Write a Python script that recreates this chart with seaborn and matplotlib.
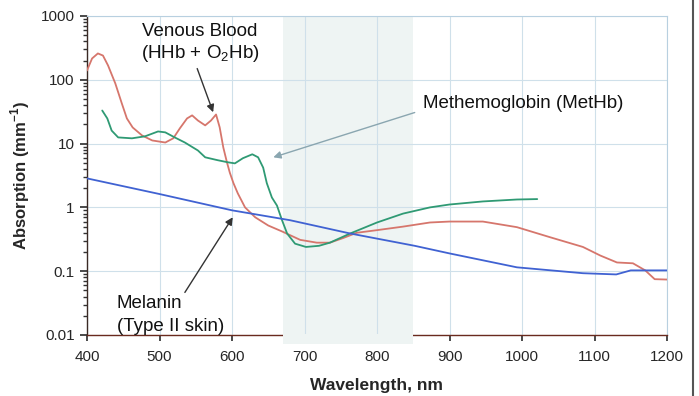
import numpy as np
import pandas as pd
import matplotlib
matplotlib.use("Agg")
import matplotlib.pyplot as plt
import seaborn as sns
from matplotlib.lines import Line2D

# ---- data ----
blood_wl = [400, 407, 415, 422, 429, 439, 448, 455, 463, 476, 490, 508, 519, 528, 538, 545,
            553, 563, 571, 578, 583, 588, 593, 597, 602, 608, 618, 632, 650, 669, 694, 717,
            735, 753, 772, 800, 836, 873, 900, 946, 993, 1039, 1084, 1108, 1131, 1153, 1170,
            1183, 1200]
blood_abs = [140, 216, 259, 240, 168, 88, 42.7, 24.8, 17.9, 13.4, 11.2, 10.4, 12.1, 17.3, 24.8, 27.7,
             23, 19.3, 23, 28.6, 18, 8.7, 5.1, 3.5, 2.4, 1.66, 1.0, 0.7, 0.52, 0.42, 0.31, 0.28,
             0.28, 0.33, 0.40, 0.44, 0.50, 0.58, 0.6, 0.6, 0.49, 0.34, 0.24, 0.176, 0.137, 0.133, 0.103,
             0.075, 0.074]

methb_wl = [421, 428, 434, 443, 462, 480, 498, 508, 521, 535, 553, 563, 580, 594, 604, 615,
            628, 636, 643, 648, 655, 662, 669, 676, 687, 702, 720, 735, 763, 800, 836, 873,
            900, 946, 993, 1021]
methb_abs = [33, 24.8, 16, 12.5, 12.1, 13, 15.5, 15, 12.5, 10.4, 7.8, 6.1, 5.5, 5.1, 4.9, 5.9,
             6.8, 6.1, 4.2, 2.4, 1.43, 1.07, 0.63, 0.39, 0.27, 0.24, 0.25, 0.28, 0.39, 0.58, 0.8, 1.0,
             1.11, 1.24, 1.33, 1.35]

melanin_wl = [400, 500, 600, 680, 763, 852, 900, 993, 1084, 1130, 1150, 1200]
melanin_abs = [2.85, 1.62, 0.9, 0.63, 0.39, 0.25, 0.19, 0.115, 0.093, 0.089, 0.103, 0.103]

x_ticks = [400, 500, 600, 700, 800, 900, 1000, 1100, 1200]
y_ticks = [0.01, 0.1, 1, 10, 100, 1000]
y_ticklabels = ["0.01", "0.1", "1", "10", "100", "1000"]
window = (670, 850)

df = pd.concat([
    pd.DataFrame({"wl": blood_wl, "abs": blood_abs, "series": "Venous Blood"}),
    pd.DataFrame({"wl": methb_wl, "abs": methb_abs, "series": "MetHb"}),
    pd.DataFrame({"wl": melanin_wl, "abs": melanin_abs, "series": "Melanin"}),
])

sns.set_theme(style="white")
plt.rcParams["font.family"] = ["Liberation Sans", "DejaVu Sans"]
plt.rcParams["mathtext.fontset"] = "custom"
plt.rcParams["mathtext.rm"] = "Liberation Sans"
plt.rcParams["mathtext.bf"] = "Liberation Sans:bold"

fig = plt.figure(figsize=(6.99, 3.96), dpi=100)
ax = fig.add_axes([87/699, 1 - 335/396, 580/699, 319/396])

band_color = "#eef4f3"
palette = {"Venous Blood": "#d6766c", "MetHb": "#2f9a74", "Melanin": "#4062d2"}
ax.axvspan(window[0], window[1], color=band_color, zorder=0.3, lw=0)
# band also covers the bottom axis line and a bit below it
ax.axvspan(window[0], window[1], ymin=-9/319, ymax=1.5/319, color=band_color,
           zorder=2.6, lw=0, clip_on=False)

sns.lineplot(data=df, x="wl", y="abs", hue="series", palette=palette, ax=ax,
             legend=False, lw=1.3, sort=False, zorder=3)

ax.set_yscale("log")
ax.set_xlim(400, 1200)
ax.set_ylim(0.01, 1000)
ax.set_xticks(x_ticks)
ax.set_xticklabels([str(t) for t in x_ticks], fontsize=11)
ax.set_yticks(y_ticks)
ax.set_yticklabels(y_ticklabels, fontsize=11)
ax.yaxis.set_minor_locator(matplotlib.ticker.LogLocator(base=10, subs=np.arange(2, 10)))
ax.yaxis.set_minor_formatter(matplotlib.ticker.NullFormatter())
ax.tick_params(axis="y", which="major", direction="out", length=5, color="#333333",
               left=True, pad=4)
ax.tick_params(axis="y", which="minor", direction="out", length=3, color="#333333", left=True)
ax.tick_params(axis="x", which="major", direction="out", length=4, color="#333333",
               bottom=True, pad=7)

ax.grid(True, which="major", color="#cfe0ea", lw=0.8)
ax.set_axisbelow(True)
for s in ["top", "right"]:
    ax.spines[s].set_color("#b8d0e0")
    ax.spines[s].set_linewidth(0.8)
ax.spines["left"].set_color("#3a2a25")
ax.spines["bottom"].set_color("#6a2a1e")
ax.spines["left"].set_linewidth(1.0)
ax.spines["bottom"].set_linewidth(1.0)

ax.set_xlabel("Wavelength, nm", fontsize=12.5, fontweight="bold", labelpad=10)
ax.set_ylabel("Absorption (mm$^{\\mathbf{-1}}$)", fontsize=12, fontweight="bold", labelpad=6)

# annotations: text and arrows
ax.text(556, 372, "Venous Blood\n(HHb + O$_2$Hb)", fontsize=13.5, ha="center", va="center",
        color="#111111", linespacing=1.2)
ax.annotate("", xy=(574, 31), xytext=(552, 150),
            arrowprops=dict(arrowstyle="-|>", color="#333333", lw=1.0,
                            mutation_scale=11, shrinkA=0, shrinkB=0))

ax.text(1001, 42.7, "Methemoglobin (MetHb)", fontsize=13.5, ha="center", va="center",
        color="#111111")
ax.annotate("", xy=(657, 6.1), xytext=(852, 30.7),
            arrowprops=dict(arrowstyle="-|>", color="#8aa6b0", lw=1.0,
                            mutation_scale=11, shrinkA=0, shrinkB=0))

ax.text(441, 0.0203, "Melanin\n(Type II skin)", fontsize=13.5, ha="left", va="center",
        color="#111111", linespacing=1.45)
ax.annotate("", xy=(601, 0.70), xytext=(535, 0.0465),
            arrowprops=dict(arrowstyle="-|>", color="#333333", lw=1.0,
                            mutation_scale=11, shrinkA=0, shrinkB=0))

# image border line at right
fig.add_artist(Line2D([693/699, 693/699], [0, 1], color="#555555", lw=1.5))

fig.savefig("out.png", dpi=100)
